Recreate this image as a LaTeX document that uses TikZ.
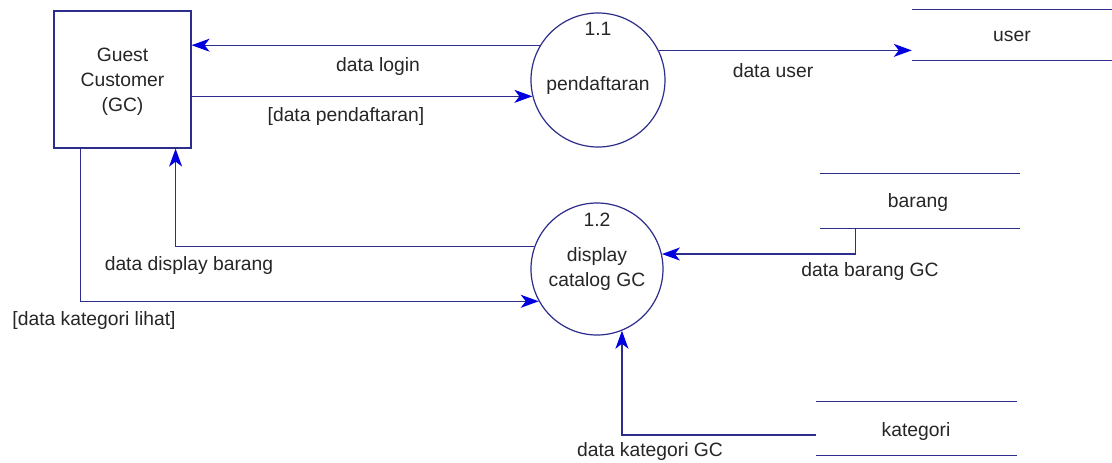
\documentclass[tikz,border=0pt]{standalone}
\usepackage{fontspec}
\setmainfont{Liberation Sans}
\usetikzlibrary{arrows.meta,calc}
\definecolor{linec}{RGB}{45,45,140}
\definecolor{tipc}{RGB}{0,0,225}
\begin{document}
\begin{tikzpicture}[x=1pt,y=-1pt,
  txt/.style={font=\fontsize{19.3}{25}\selectfont, inner sep=0pt, text=black!85},
  flow/.style={draw=linec, line width=1.3pt, -{Stealth[inset=5pt,length=18pt,width=13pt,color=tipc,fill=tipc]}},
  plain/.style={draw=linec, line width=1.3pt},
  proc/.style={circle, draw=linec, line width=1.2pt, minimum size=#1, inner sep=0pt},
  ent/.style={rectangle, draw=linec, line width=1.2pt, inner sep=0pt},
  storebox/.style={rectangle, inner sep=0pt}
]
\useasboundingbox (0,0) rectangle (1112,463);
\fill[white] (0,0) rectangle (1112,463);

% entity
\node[ent, minimum width=137pt, minimum height=137pt] (gc) at (122.5,79.5) {};
\node[txt, align=center] (gct) at (122.5,82) {Guest\\Customer\\(GC)};

% processes
\node[proc=134pt] (p11) at (598,80) {};
\node[txt] (n11) at (598,29) {1.1};
\node[txt] (t11) at (598,86) {pendaftaran};

\node[proc=132pt] (p12) at (597,269) {};
\node[txt] (n12) at (597,220) {1.2};
\node[txt, align=center] (t12) at (597,269) {display\\catalog GC};

% stores
\node[storebox, minimum width=200pt, minimum height=50pt] (user) at (1012,35) {};
\draw[plain] (user.north west) -- (user.north east);
\draw[plain] (user.south west) -- (user.south east);
\node[txt] (usert) at (1012,36) {user};

\node[storebox, minimum width=200pt, minimum height=55pt] (barang) at (920,201) {};
\draw[plain] (barang.north west) -- (barang.north east);
\draw[plain] (barang.south west) -- (barang.south east);
\node[txt] (barangt) at (918,203) {barang};

\node[storebox, minimum width=201pt, minimum height=53pt] (kategori) at (916.5,428.5) {};
\draw[plain] (kategori.north west) -- (kategori.north east);
\draw[plain] (kategori.south west) -- (kategori.south east);
\node[txt] (kategorit) at (916,432) {kategori};

% flows
\draw[flow] (p11.149) -- (gc.east |- p11.149);
\node[txt] (l1) at (378,67) {data login};

\draw[flow] (gc.east |- p11.194) -- (p11.194);
\node[txt] (l2) at (346,117) {[data pendaftaran]};

\draw[flow] (p11.26) -- (user.west |- p11.26);
\node[txt] (l3) at (773,71) {data user};

\draw[flow] (p12.160) -| ($(gc.south east)+(-16,0)$);
\node[txt] (l4) at (189,266) {data display barang};

\draw[flow] ($(gc.south west)+(27,0)$) |- (p12.209);
\node[txt] (l5) at (94,321) {[data kategori lihat]};

\draw[flow] ($(barang.south west)+(36,0)$) |- (p12.13);
\node[txt] (l6) at (870,272) {data barang GC};

\draw[flow] ($(kategori.west)+(0,6.5)$) -| (p12.292);
\node[txt] (l7) at (650,452) {data kategori GC};
\end{tikzpicture}
\end{document}
